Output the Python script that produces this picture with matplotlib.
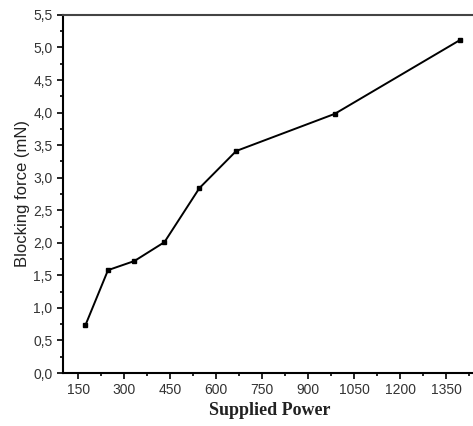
import matplotlib
matplotlib.use("Agg")
import matplotlib.pyplot as plt
from matplotlib.ticker import MultipleLocator, FuncFormatter

# data
power = [173, 247, 333, 431, 545, 665, 986, 1393]
force = [0.73, 1.58, 1.72, 2.01, 2.84, 3.41, 3.98, 5.11]

fig = plt.figure(figsize=(4.73, 4.26), dpi=100)
ax = fig.add_axes([0.133, 0.1244, 0.8755, 0.8406])

ax.plot(power, force, color="black", lw=1.4, marker="s", ms=2.2)

ax.set_xlim(100, 1450)
ax.set_ylim(0, 5.5)
ax.xaxis.set_major_locator(MultipleLocator(150))
ax.xaxis.set_minor_locator(MultipleLocator(75))
ax.yaxis.set_major_locator(MultipleLocator(0.5))
ax.yaxis.set_minor_locator(MultipleLocator(0.25))
ax.set_xticks(range(150, 1351, 150))
ax.yaxis.set_major_formatter(FuncFormatter(lambda v, p: f"{v:.1f}".replace(".", ",")))

ax.tick_params(which="both", direction="out", color="black", width=1.2)
ax.tick_params(which="major", length=4, labelsize=10, labelcolor="#333333")
ax.tick_params(which="minor", length=2.5)
for lab in ax.get_xticklabels() + ax.get_yticklabels():
    lab.set_family("Liberation Sans")

for s in ["left", "bottom", "top"]:
    ax.spines[s].set_linewidth(1.5)
ax.spines["top"].set_color("#444444")

ax.set_ylabel("Blocking force (mN)", fontsize=12, family="Liberation Sans", color="#222222", labelpad=2)
ax.set_xlabel("Supplied Power", fontsize=13, family="Liberation Serif", fontweight="bold", color="#222222", labelpad=3)

fig.savefig("out.png", dpi=100)
